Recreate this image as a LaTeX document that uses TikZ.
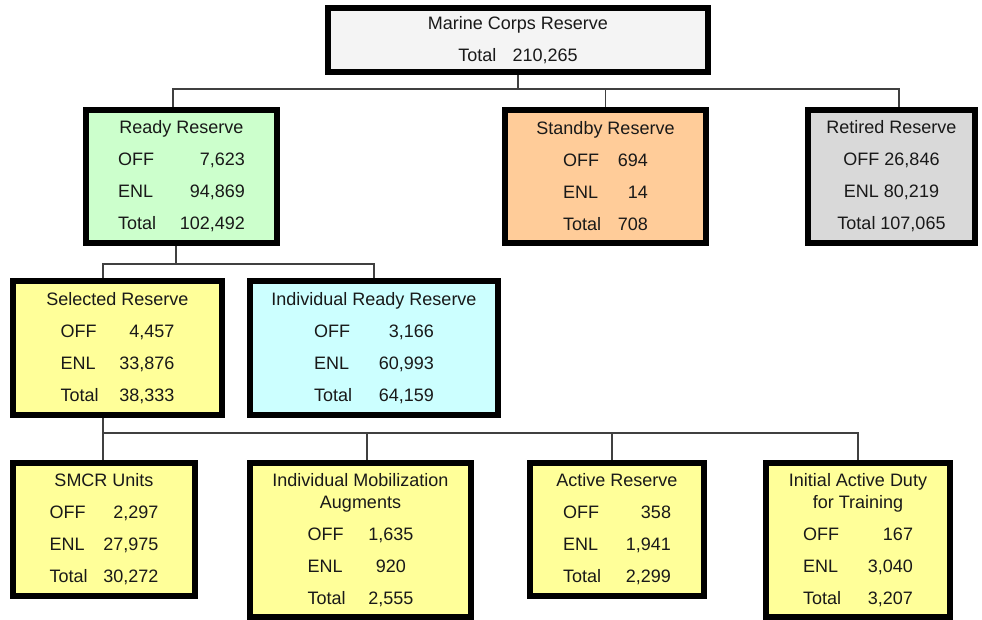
\documentclass[tikz,border=0pt]{standalone}
\usepackage{fontspec}
\setmainfont{Liberation Sans}
\usetikzlibrary{backgrounds}

\definecolor{rootfill}{HTML}{F4F4F4}
\definecolor{readyfill}{HTML}{CCFFCC}
\definecolor{standbyfill}{HTML}{FFCC99}
\definecolor{retiredfill}{HTML}{D9D9D9}
\definecolor{selfill}{HTML}{FFFF99}
\definecolor{irrfill}{HTML}{CCFFFF}

\newcommand{\tally}[4]{\makebox[#1]{OFF\hfill #2}\\\makebox[#1]{ENL\hfill #3}\\\makebox[#1]{Total\hfill #4}}

\begin{document}
\begin{tikzpicture}[
  x=1pt, y=-1pt,
  unit/.style={draw=black, line width=6pt, align=center, text=black!90,
    font=\fontsize{18}{32}\selectfont, inner sep=0pt},
  link/.style={draw=black!75, line width=1.5pt}
  ]
\useasboundingbox (0,0) rectangle (982,620);

\node[unit, fill=rootfill, minimum width=380pt, minimum height=64pt] (root) at (518,40)
  {Marine Corps Reserve\\Total\hspace{0.9em}210,265};

\node[unit, fill=readyfill, minimum width=191pt, minimum height=133pt] (ready) at (181.5,176.5)
  {Ready Reserve\\\tally{127pt}{7,623}{94,869}{102,492}};
\node[unit, fill=standbyfill, minimum width=201pt, minimum height=133pt] (standby) at (605.5,176.5)
  {Standby Reserve\\\tally{85pt}{694}{14}{708}};
\node[unit, fill=retiredfill, minimum width=167pt, minimum height=133pt] (retired) at (891.5,176.5)
  {Retired Reserve\\OFF 26,846\\ENL 80,219\\Total 107,065};

\node[unit, fill=selfill, minimum width=209pt, minimum height=134pt] (selected) at (117.5,348)
  {Selected Reserve\\\tally{114pt}{4,457}{33,876}{38,333}};
\node[unit, fill=irrfill, minimum width=248pt, minimum height=134pt] (irr) at (374,348)
  {Individual Ready Reserve\\\tally{120pt}{3,166}{60,993}{64,159}};

\node[unit, fill=selfill, minimum width=182pt, minimum height=133pt] (smcr) at (104,529.5)
  {SMCR Units\\\tally{109pt}{2,297}{27,975}{30,272}};
\node[unit, fill=selfill, minimum width=221pt, minimum height=154pt] (ima) at (360.5,540)
  {Individual Mobilization\\[-10pt]Augments\\\tally{106pt}{1,635}{\makebox[2.5em]{920}}{2,555}};
\node[unit, fill=selfill, minimum width=174pt, minimum height=133pt] (active) at (617,529.5)
  {Active Reserve\\\tally{108pt}{358}{1,941}{2,299}};
\node[unit, fill=selfill, minimum width=184pt, minimum height=154pt] (initial) at (858,540)
  {Initial Active Duty\\[-10pt]for Training\\\tally{110pt}{167}{3,040}{3,207}};

\coordinate (b1) at (0,89);
\coordinate (b2) at (0,264);
\coordinate (b3) at (0,433);
\coordinate (rdyin) at ([xshift=-8.5pt]ready.north);
\coordinate (retin) at ([xshift=7.5pt]retired.north);
\coordinate (rdyout) at ([xshift=-5.5pt]ready.south);
\coordinate (selin) at ([xshift=-14.5pt]selected.north);
\coordinate (selout) at ([xshift=-14.5pt]selected.south);
\coordinate (imain) at ([xshift=6.5pt]ima.north);
\coordinate (actin) at ([xshift=-5pt]active.north);

\begin{scope}[on background layer]
\draw[link] (root.south) -- (root.south |- b1);
\draw[link] (rdyin) |- (b1 -| retin) -- (retin);
\draw[link] (standby.north) -- (standby.north |- b1);

\draw[link] (rdyout) -- (rdyout |- b2);
\draw[link] (selin) |- (b2 -| irr.north) -- (irr.north);

\draw[link] (selout) -- (selout |- smcr.north);
\draw[link] (selout |- b3) -| (initial.north);
\draw[link] (imain) -- (imain |- b3);
\draw[link] (actin) -- (actin |- b3);
\end{scope}

\end{tikzpicture}
\end{document}
